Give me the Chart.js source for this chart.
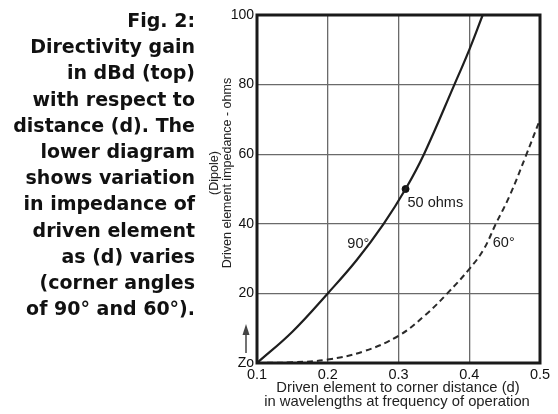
<!DOCTYPE html>
<html>
<head>
<meta charset="utf-8">
<script src="https://cdn.jsdelivr.net/npm/chart.js@4/dist/chart.umd.min.js"></script>
<style>
  html, body { margin: 0; padding: 0; background: #fff; }
  #wrap { position: relative; width: 558px; height: 414px; }
</style>
</head>
<body>
<div id="wrap"><canvas id="c" width="558" height="414"></canvas></div>
<script>
// Data
const xTicks = [0.1, 0.2, 0.3, 0.4, 0.5];
const yTicks = [0, 20, 40, 60, 80, 100];
const d90 = [0.1, 0.15, 0.2, 0.241, 0.279, 0.31, 0.336, 0.379, 0.4, 0.419];
const z90 = [0, 9, 20, 29.6, 40, 50, 60, 80, 90, 100];
const d60 = [0.1, 0.15, 0.2, 0.25, 0.3, 0.338, 0.369, 0.4, 0.42, 0.4376, 0.457, 0.48, 0.5];
const z60 = [0, 0.2, 1, 3.3, 7.8, 13.8, 20, 27, 32.5, 40, 48, 59.5, 70];
const markerD = [0.31];
const markerZ = [50];
const captionLines = ["Fig. 2:", "Directivity gain", "in dBd (top)", "with respect to", "distance (d). The", "lower diagram", "shows variation", "in impedance of", "driven element", "as (d) varies", "(corner angles", "of 90\u00b0 and 60\u00b0)."];
const yTitleLines = ["(Dipole)", "Driven element impedance - ohms"];
const xTitleLines = ["Driven element to corner distance (d)", "in wavelengths at frequency of operation"];
const labels = [
  {text: "50 ohms", d: 0.3128, z: 46},
  {text: "90\u00b0", d: 0.2277, z: 34.2},
  {text: "60\u00b0", d: 0.4333, z: 34.5}
];

const toPts = (xs, ys) => xs.map((x, i) => ({x: x, y: ys[i]}));
const FONT = '"Liberation Sans", Arial, sans-serif';

const overlay = {
  id: 'overlay',
  afterDatasetsDraw(chart) {
    const ctx = chart.ctx;
    const a = chart.chartArea;
    const xs = chart.scales.x, ys = chart.scales.y;
    ctx.save();
    // frame
    ctx.strokeStyle = '#1a1a1a';
    ctx.lineWidth = 3;
    ctx.strokeRect(a.left, a.top, a.right - a.left, a.bottom - a.top);
    // annotations
    ctx.fillStyle = '#1a1a1a';
    ctx.font = '14.5px ' + FONT;
    ctx.textBaseline = 'middle';
    ctx.textAlign = 'left';
    labels.forEach(l => ctx.fillText(l.text, xs.getPixelForValue(l.d), ys.getPixelForValue(l.z)));
    ctx.restore();
  },
  afterDraw(chart) {
    const ctx = chart.ctx;
    ctx.save();
    // caption
    ctx.fillStyle = '#111';
    ctx.font = 'bold 19px "DejaVu Sans", sans-serif';
    ctx.textAlign = 'right';
    ctx.textBaseline = 'middle';
    captionLines.forEach((t, i) => ctx.fillText(t, 195, 22 + i * 26.2));
    // y title
    ctx.font = '12.5px ' + FONT;
    ctx.textAlign = 'center';
    ctx.fillStyle = '#222';
    const cy = 173;
    [215, 228].forEach((x, i) => {
      ctx.save();
      ctx.translate(x, cy);
      ctx.rotate(-Math.PI / 2);
      ctx.fillText(yTitleLines[i], 0, 0);
      ctx.restore();
    });
    // arrow
    ctx.strokeStyle = '#444';
    ctx.fillStyle = '#444';
    ctx.lineWidth = 1.5;
    ctx.beginPath();
    ctx.moveTo(246, 353);
    ctx.lineTo(246, 332);
    ctx.stroke();
    ctx.beginPath();
    ctx.moveTo(246, 324);
    ctx.lineTo(242.5, 335);
    ctx.lineTo(249.5, 335);
    ctx.closePath();
    ctx.fill();
    // x title
    ctx.fillStyle = '#222';
    ctx.font = '14.8px ' + FONT;
    ctx.textAlign = 'center';
    ctx.fillText(xTitleLines[0], 398, 388);
    ctx.fillText(xTitleLines[1], 397, 402);
    ctx.restore();
  }
};

new Chart(document.getElementById('c'), {
  type: 'scatter',
  data: {
    datasets: [
      {data: toPts(d90, z90), showLine: true, borderColor: '#1e1e1e', borderWidth: 2.2, pointRadius: 0, tension: 0.4, fill: false},
      {data: toPts(d60, z60), showLine: true, borderColor: '#2a2a2a', borderWidth: 2, borderDash: [6, 4], pointRadius: 0, tension: 0.4, fill: false},
      {data: toPts(markerD, markerZ), showLine: false, pointRadius: 3.5, pointBackgroundColor: '#111', pointBorderColor: '#111'}
    ]
  },
  options: {
    responsive: false,
    animation: false,
    layout: {padding: {left: 0, right: 18, top: 15, bottom: 0}},
    plugins: {legend: {display: false}, tooltip: {enabled: false}},
    scales: {
      x: {
        type: 'linear', min: 0.1, max: 0.5,
        afterBuildTicks: s => { s.ticks = xTicks.map(v => ({value: v})); },
        afterFit: s => { s.height = 51; },
        grid: {color: '#6a6a6a', lineWidth: 1.3, drawTicks: false},
        border: {display: false},
        ticks: {color: '#111', font: {family: FONT, size: 14.5}, padding: 3, maxRotation: 0, callback: v => v.toFixed(1)}
      },
      y: {
        type: 'linear', min: 0, max: 100,
        afterBuildTicks: s => { s.ticks = yTicks.map(v => ({value: v})); },
        afterFit: s => { s.width = 257; },
        grid: {color: '#6a6a6a', lineWidth: 1.3, drawTicks: false},
        border: {display: false},
        ticks: {color: '#111', font: {family: FONT, size: 14}, padding: 3, callback: v => v === 0 ? 'Zo' : String(v)}
      }
    }
  },
  plugins: [overlay]
});
</script>
</body>
</html>
